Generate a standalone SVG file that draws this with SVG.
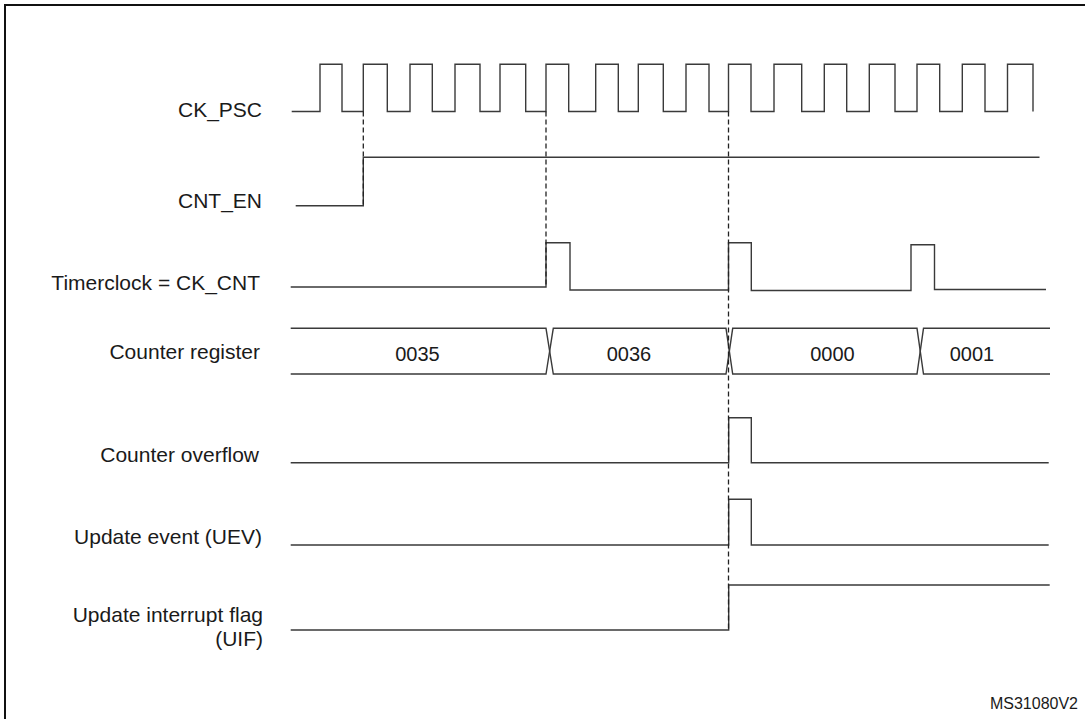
<svg xmlns="http://www.w3.org/2000/svg" width="1085" height="719" viewBox="0 0 1085 719">
<style>
  .sig { fill: none; stroke: #3a3a3a; stroke-width: 1.4; stroke-linejoin: miter; }
  .dash { fill: none; stroke: #222; stroke-width: 1.3; stroke-dasharray: 5 3; }
  .lbl { font-family: "Liberation Sans", Arial, sans-serif; font-size: 21px; fill: #1a1a1a; text-anchor: end; }
  .val { font-family: "Liberation Sans", Arial, sans-serif; font-size: 20px; fill: #1a1a1a; text-anchor: middle; }
  .ref { font-family: "Liberation Sans", Arial, sans-serif; font-size: 16px; fill: #1a1a1a; text-anchor: end; }
  .frame { fill: none; stroke: #111; stroke-width: 2; }
</style>
<rect width="1085" height="719" fill="#ffffff"/>
<path class="frame" d="M5,720 V5 H1086"/>

<g id="ck_psc">
  <text class="lbl" x="262" y="117">CK_PSC</text>
  <path class="sig" d="M291.7,111.5 H320 V64.3 H342 V111.5 H363.3 V64.3 H387.3 V111.5 H410 V64.3 H432.3 V111.5 H455 V64.3 H480 V111.5 H500 V64.3 H525.7 V111.5 H546 V64.3 H568.7 V111.5 H595.7 V64.3 H618.3 V111.5 H638.3 V64.3 H663.3 V111.5 H686 V64.3 H709 V111.5 H728.5 V64.3 H751 V111.5 H774 V64.3 H801.7 V111.5 H824.3 V64.3 H846.7 V111.5 H869.3 V64.3 H895 V111.5 H917 V64.3 H939.7 V111.5 H962.3 V64.3 H985 V111.5 H1007.5 V64.3 H1033 V111.5"/>
</g>

<g id="cnt_en">
  <text class="lbl" x="262" y="208">CNT_EN</text>
  <path class="sig" d="M295.7,205.7 H363.3 V157.3 H1039.5"/>
</g>

<g id="ck_cnt">
  <text class="lbl" x="260" y="290">Timerclock = CK_CNT</text>
  <path class="sig" d="M290.7,287 H546 V242.7 H570 V290 H728.5 V242.7 H751.3 V290.5 H911 V244.7 H934.5 V289.5 H1046"/>
</g>

<g id="counter_register">
  <text class="lbl" x="260" y="359">Counter register</text>
  <path class="sig" d="M290.7,328.3 H546 L553.3,374 H726 L732.7,328.3 H917 L923.5,374 H1050"/>
  <path class="sig" d="M290.7,374 H546 L553.3,328.3 H726 L732.7,374 H917 L923.5,328.3 H1050"/>
  <text class="val" x="417.5" y="361">0035</text>
  <text class="val" x="629" y="361">0036</text>
  <text class="val" x="832.5" y="361">0000</text>
  <text class="val" x="972" y="361">0001</text>
</g>

<g id="counter_overflow">
  <text class="lbl" x="259" y="462">Counter overflow</text>
  <path class="sig" d="M290.7,462.7 H728.7 V417.7 H751.3 V462.7 H1048.7"/>
</g>

<g id="uev">
  <text class="lbl" x="262" y="544">Update event (UEV)</text>
  <path class="sig" d="M290.7,545 H728.7 V499.3 H751.3 V545 H1048.7"/>
</g>

<g id="uif">
  <text class="lbl" x="263" y="622">Update interrupt flag</text>
  <text class="lbl" x="263" y="646">(UIF)</text>
  <path class="sig" d="M290.7,630 H728.7 V585 H1049.7"/>
</g>

<g id="connectors">
  <line class="dash" x1="363.3" y1="111.5" x2="363.3" y2="205.7"/>
  <line class="dash" x1="546" y1="111.5" x2="546" y2="287"/>
  <line class="dash" x1="728.5" y1="111.5" x2="728.5" y2="630"/>
</g>

<text class="ref" x="1078" y="709">MS31080V2</text>
</svg>
